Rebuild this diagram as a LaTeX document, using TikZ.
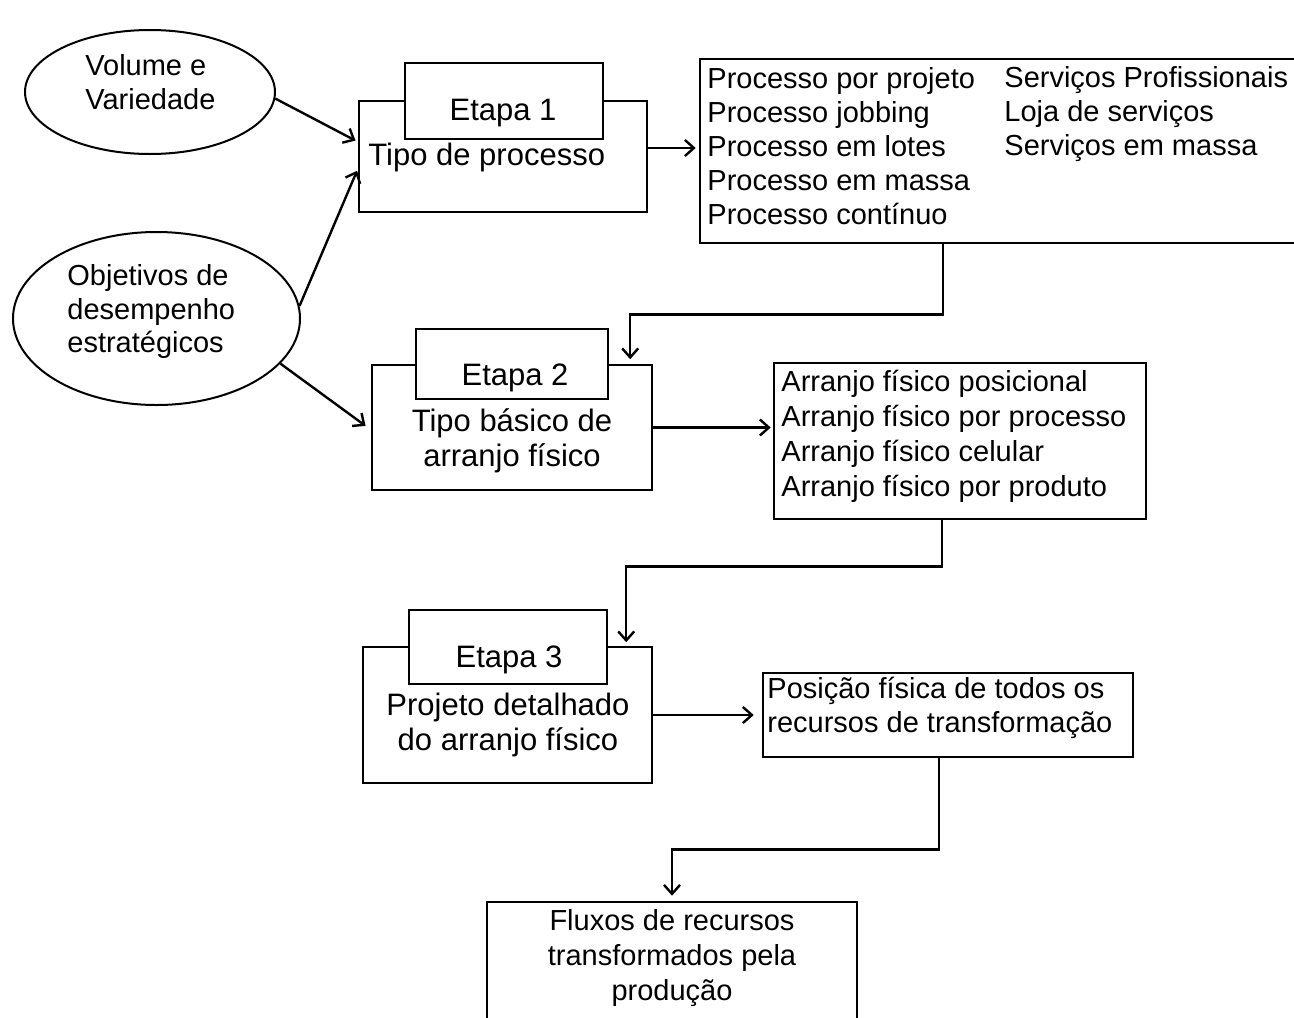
\documentclass[tikz,border=0pt]{standalone}
\usepackage{fontspec}
\setmainfont{Liberation Sans}
\usetikzlibrary{shapes.geometric,arrows.meta,calc}

\begin{document}
\begin{tikzpicture}[x=0.5pt,y=-0.5pt,
  ell/.style={ellipse,draw,line width=1pt,inner sep=0pt},
  outerbox/.style={rectangle,draw,line width=0.8pt,inner sep=0pt},
  tabbox/.style={rectangle,draw,fill=white,line width=0.8pt,inner sep=0pt},
  listbox/.style={rectangle,draw,line width=1.3pt,inner sep=0pt},
  listtxt/.style={inner sep=0pt,align=left,font=\fontsize{14.5}{17}\selectfont},
  stagetxt/.style={inner sep=0pt,align=center,font=\fontsize{15.5}{17.5}\selectfont},
  ovaltxt/.style={inner sep=0pt,align=left,font=\fontsize{14.5}{16.75}\selectfont},
  conn/.style={line width=1.2pt,-{Straight Barb[length=4.5pt,width=8pt,line width=1.2pt]}},
]
\useasboundingbox (0,0) rectangle (1294,1017);
\fill[white] (0,0) rectangle (1294,1017);
\clip (0,0) rectangle (1294,1017);

% inputs
\node[ell,minimum width=125pt,minimum height=62pt] (e1) at (150,92) {};
\node[ovaltxt,anchor=west] (e1t) at (85,82) {Volume e\\Variedade};
\node[ell,minimum width=143.5pt,minimum height=86.5pt] (e2) at (156.5,318.5) {};
\node[ovaltxt,anchor=west] (e2t) at (67,311.5) {Objetivos de\\desempenho\\estratégicos};

% stage 1
\node[outerbox,minimum width=144pt,minimum height=55.5pt] (s1) at (503,156.5) {};
\node[tabbox,minimum width=99pt,minimum height=38pt] (k1) at (504,101) {};
\node[stagetxt,anchor=base] (k1t) at (503,120) {Etapa 1};
\node[stagetxt,anchor=base west] (s1t) at (368,165) {Tipo de processo};

% stage 2
\node[outerbox,minimum width=140pt,minimum height=62.5pt] (s2) at (512,427.5) {};
\node[tabbox,minimum width=96pt,minimum height=35pt] (k2) at (512,364) {};
\node[stagetxt,anchor=base] (k2t) at (515,385) {Etapa 2};
\node[stagetxt] (s2t) at (512,441) {Tipo básico de\\arranjo físico};

% stage 3
\node[outerbox,minimum width=144.5pt,minimum height=68pt] (s3) at (507.5,715) {};
\node[tabbox,minimum width=99pt,minimum height=37pt] (k3) at (508,647) {};
\node[stagetxt,anchor=base] (k3t) at (509,667) {Etapa 3};
\node[stagetxt] (s3t) at (508,724.5) {Projeto detalhado\\do arranjo físico};

% outcome lists
\node[listbox,minimum width=301pt,minimum height=92pt] (L1) at (1001,151) {};
\node[listtxt,anchor=west] (L1a) at (707,146) {Processo por projeto\\Processo jobbing\\Processo em lotes\\Processo em massa\\Processo contínuo};
\node[listtxt,anchor=west] (L1b) at (1004,114.5) {Serviços Profissionais\\Loja de serviços\\Serviços em massa};

\node[listbox,minimum width=186pt,minimum height=78pt] (L2) at (960,441) {};
\node[listtxt,anchor=west,font=\fontsize{14.5}{17.5}\selectfont] (L2t) at (781,436) {Arranjo físico posicional\\Arranjo físico por processo\\Arranjo físico celular\\Arranjo físico por produto};

\node[listbox,minimum width=185pt,minimum height=42pt] (L3) at (948,715) {};
\node[listtxt,anchor=west] (L3t) at (767,708) {Posição física de todos os\\recursos de transformação};

\node[listbox,minimum width=185pt,minimum height=69pt] (F) at (672,971) {};
\node[listtxt,align=center,font=\fontsize{14.5}{17.5}\selectfont] (Ft) at (672,958.5) {Fluxos de recursos\\transformados pela\\produção};

% connectors
\draw[conn,shorten >=1.5pt] (e1.-3) -- ([yshift=7.25pt]s1.west);
\draw[conn,shorten >=1.5pt] (e2.5) -- ([yshift=-5.75pt]s1.west);
\draw[conn,shorten >=3.5pt] (e2.-20) -- ([yshift=-1.25pt]s2.west);

\coordinate (p1) at ([yshift=4.25pt]s1.east);
\draw[conn,shorten >=1.5pt] (p1) -- (p1 -| L1.west);
\draw[conn,shorten >=1pt] (s2.east) -- (s2.east -| L2.west);
\draw[conn,shorten >=4pt] (s3.east) -- (s3.east -| L3.west);

\coordinate (q1) at ($(L1.south west)+(244,0)$);
\coordinate (q2) at ($(s2.north west)+(259,0)$);
\draw[conn,shorten >=2.5pt] (q1) -- ++(0,70) -| (q2);

\coordinate (q3) at ($(L2.south west)+(169,0)$);
\coordinate (q4) at ($(s3.north west)+(264,0)$);
\draw[conn,shorten >=2pt] (q3) -- ++(0,46) -| (q4);

\coordinate (q5) at ($(L3.south west)+(177,0)$);
\draw[conn,shorten >=2.5pt] (q5) -- ++(0,91) -| (F.north);
\end{tikzpicture}
\end{document}
